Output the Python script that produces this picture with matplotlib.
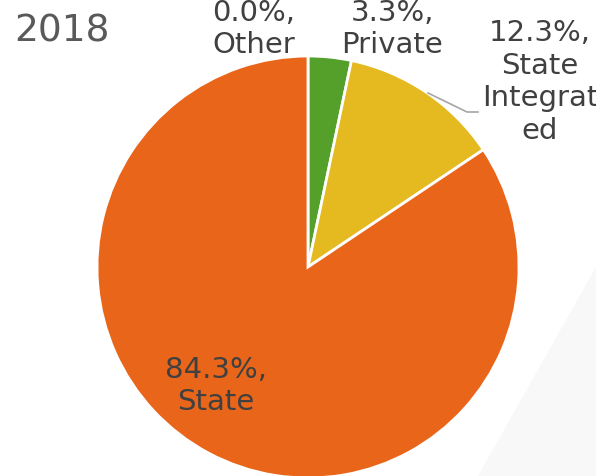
import matplotlib
matplotlib.use("Agg")
import matplotlib.pyplot as plt

categories = ["Other", "Private", "State\nIntegrat\ned", "State"]
values = [0.0, 3.3, 12.3, 84.3]
colors = ["#A5A5A5", "#55A02B", "#E5B920", "#E8651A"]
title = "2018"

W, H = 596, 477
fig = plt.figure(figsize=(W / 100, H / 100), dpi=100)
ax = fig.add_axes([0, 0, 1, 1])

# faint background shape
ax.fill([596, 478, 596], [209, 0, 0], color="#f8f8f8", zorder=0, lw=0)

ax.pie(values, colors=colors, startangle=90, counterclock=False,
       center=(308, 209), radius=211, frame=True,
       wedgeprops=dict(edgecolor="white", linewidth=2.0))
ax.set_xlim(0, W)
ax.set_ylim(0, H)
ax.set_aspect("equal")
ax.axis("off")

tc = "#404040"
fs = 21
ls = 1.2
lbl = [f"{v:.1f}%,\n{c}" for v, c in zip(values, categories)]
ax.text(254, 448, lbl[0], ha="center", va="center", fontsize=fs, color=tc, linespacing=ls)
ax.text(392, 448, lbl[1], ha="center", va="center", fontsize=fs, color=tc, linespacing=ls)
ax.text(540, 395, lbl[2], ha="center", va="center", fontsize=fs, color=tc, linespacing=ls)
ax.text(216, 91, lbl[3], ha="center", va="center", fontsize=fs, color=tc, linespacing=ls)

ax.plot([428, 467, 478], [477 - 94, 477 - 113, 477 - 113], color="#A6A6A6", lw=1.2)

ax.text(14, 477 - 41, title, ha="left", va="baseline", fontsize=27, color="#595959")

fig.savefig("out.png", dpi=100)
